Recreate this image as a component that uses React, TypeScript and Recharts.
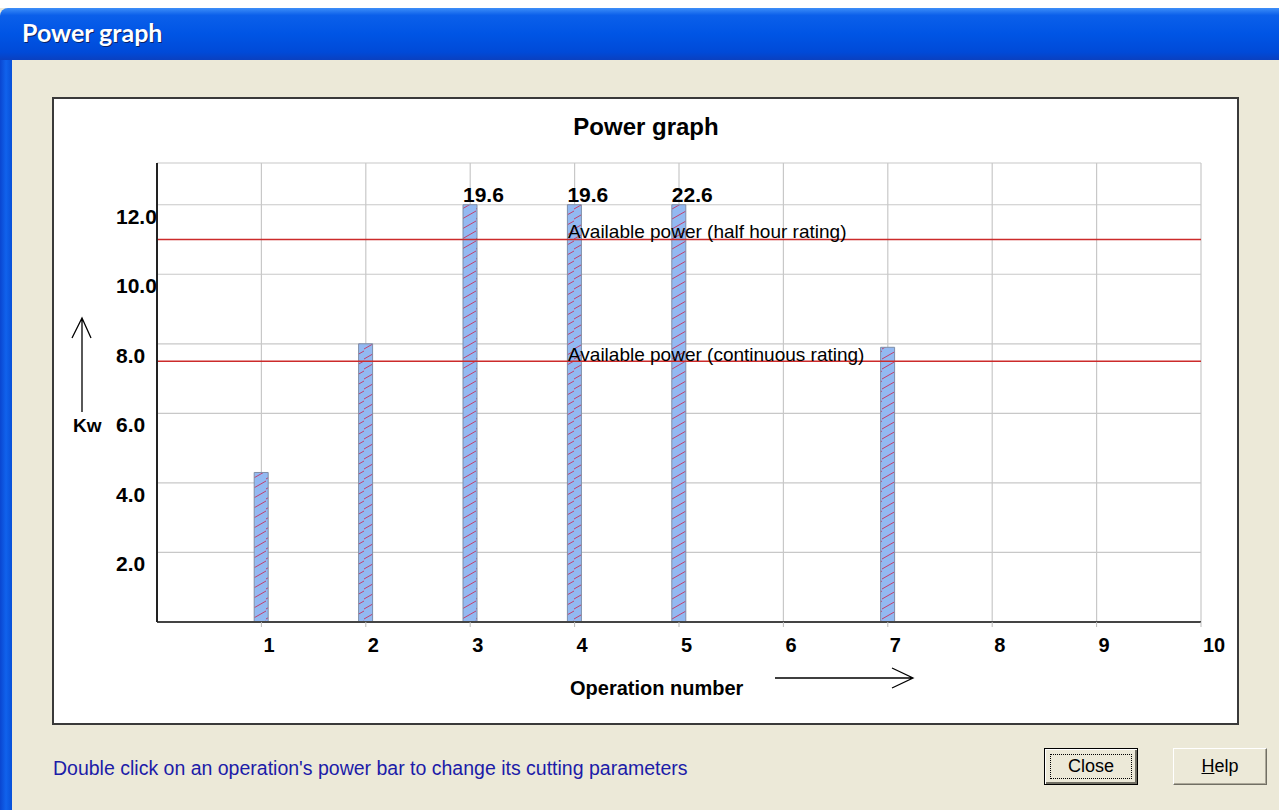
import { Bar, BarChart, CartesianGrid, LabelList, ReferenceLine, XAxis, YAxis } from 'recharts'

// operation number -> power needed (kW); bars above CAP_KW are drawn cut off at CAP_KW
const operations = [1, 2, 3, 4, 5, 7]
const powerKw = [4.3, 8.0, 19.6, 19.6, 22.6, 7.9]

const xTicks = [1, 2, 3, 4, 5, 6, 7, 8, 9, 10]
const yTicks = [2, 4, 6, 8, 10, 12]

const ratingNames = ['Available power (half hour rating)', 'Available power (continuous rating)']
const ratingKw = [11.0, 7.5]

const CAP_KW = 12
const Y_MAX = 13.2

const FONT = "'Liberation Sans', Arial, sans-serif"

const data = operations.map((op, i) => ({
  op,
  kw: powerKw[i],
  shown: Math.min(powerKw[i], CAP_KW),
}))

function YTick({ x, y, payload }: any) {
  return (
    <text x={x - 41} y={y + 19} textAnchor="start" fontFamily={FONT} fontWeight="bold" fontSize={21} fill="#000">
      {Number(payload.value).toFixed(1)}
    </text>
  )
}

function XTick({ x, y, payload }: any) {
  return (
    <text x={x + 2} y={y + 25} textAnchor="start" fontFamily={FONT} fontWeight="bold" fontSize={20} fill="#000">
      {payload.value}
    </text>
  )
}

function OverflowLabel({ x, y, value }: any) {
  if (value <= CAP_KW) return null
  return (
    <text x={x} y={y - 3} textAnchor="start" fontFamily={FONT} fontWeight="bold" fontSize={21} fill="#000">
      {Number(value).toFixed(1)}
    </text>
  )
}

function ratingLabel(text: string, dy: number) {
  return ({ viewBox }: any) => (
    <text x={viewBox.x + 411} y={viewBox.y + dy} fontFamily={FONT} fontSize={19} fill="#000">
      {text}
    </text>
  )
}

function Button({ left, label, focused }: { left: number; label: React.ReactNode; focused?: boolean }) {
  return (
    <div
      style={{
        position: 'absolute',
        left,
        top: 748,
        width: 94,
        height: 37,
        boxSizing: 'border-box',
        background: '#ECE9D8',
        border: '1px solid',
        borderColor: focused ? '#000' : '#fff #716f64 #716f64 #fff',
        boxShadow: focused ? 'inset 1px 1px #fff, inset -2px -2px #716f64' : 'inset -1px -1px #aca899',
        display: 'flex',
        alignItems: 'center',
        justifyContent: 'center',
        fontFamily: FONT,
        fontSize: 18,
        color: '#000',
      }}
    >
      {focused && (
        <div style={{ position: 'absolute', left: 5, top: 5, right: 5, bottom: 5, border: '1px dotted #000' }} />
      )}
      {label}
    </div>
  )
}

export default function App() {
  return (
    <div style={{ position: 'absolute', left: 0, top: 0, width: 1279, height: 810, background: '#ECE9D8', overflow: 'hidden' }}>
      <div style={{ position: 'absolute', left: 0, top: 0, width: 1279, height: 8, background: '#fff' }} />
      <div
        style={{
          position: 'absolute',
          left: 0,
          top: 8,
          width: 1279,
          height: 52,
          borderTopLeftRadius: 8,
          background: 'linear-gradient(180deg, #3d8ef8 0%, #0b5fea 14%, #0055e5 50%, #004ad8 85%, #0a40c0 100%)',
        }}
      >
        <div
          style={{
            position: 'absolute',
            left: 22,
            top: 9,
            fontFamily: "Lato, 'Trebuchet MS', sans-serif",
            fontWeight: 'bold',
            fontSize: 25,
            color: '#fff',
            textShadow: '1px 1px 0 #0a246a',
          }}
        >
          Power graph
        </div>
      </div>
      <div style={{ position: 'absolute', left: 0, top: 60, width: 12, height: 750, background: 'linear-gradient(90deg, #0a46d0, #1062ec 50%, #0850d8)' }} />

      <div
        style={{
          position: 'absolute',
          left: 52,
          top: 97,
          width: 1187,
          height: 628,
          boxSizing: 'border-box',
          background: '#fff',
          border: '2px solid #3a3a3a',
        }}
      />

      <div style={{ position: 'absolute', left: 0, top: 0 }}>
        <BarChart width={1279} height={810} data={data} margin={{ top: 163, right: 78, bottom: 158, left: 97 }}>
          <defs>
            <pattern id="hatch" patternUnits="userSpaceOnUse" width={14} height={10}>
              <rect width={14} height={10} fill="#93b9f2" />
              <path d="M0,9 L14,1" stroke="#c0406e" strokeWidth={1} />
            </pattern>
          </defs>
          <CartesianGrid stroke="#c8c8c8" strokeWidth={1.2} />
          <XAxis
            dataKey="op"
            type="number"
            domain={[0, 10]}
            ticks={xTicks}
            interval={0}
            height={30}
            tick={<XTick />}
            tickSize={5}
            tickMargin={0}
            tickLine={{ stroke: '#bbbbbb' }}
            axisLine={{ stroke: '#444', strokeWidth: 2 }}
          />
          <YAxis
            domain={[0, Y_MAX]}
            ticks={yTicks}
            interval={0}
            width={60}
            tick={<YTick />}
            tickSize={0}
            tickMargin={0}
            tickLine={false}
            axisLine={{ stroke: '#222', strokeWidth: 2 }}
          />
          {ratingKw.map((kw, i) => (
            <ReferenceLine
              key={ratingNames[i]}
              y={kw}
              stroke="#cc2b2b"
              strokeWidth={1.5}
              label={ratingLabel(ratingNames[i], i === 0 ? -2 : 0)}
            />
          ))}
          <Bar dataKey="shown" barSize={14} fill="url(#hatch)" stroke="#7f8ea8" strokeWidth={1} isAnimationActive={false}>
            <LabelList dataKey="kw" content={<OverflowLabel />} />
          </Bar>
        </BarChart>
      </div>

      <svg width={1279} height={810} style={{ position: 'absolute', left: 0, top: 0, pointerEvents: 'none' }}>
        <text x={646} y={135} textAnchor="middle" fontFamily={FONT} fontWeight="bold" fontSize={24} fill="#000">
          Power graph
        </text>
        <text x={73} y={432} fontFamily={FONT} fontWeight="bold" fontSize={19} fill="#000">
          Kw
        </text>
        <path d="M82,412 L82,318 M72,338 L82,318 L91,338" stroke="#000" strokeWidth={1.3} fill="none" />
        <text x={570} y={695} fontFamily={FONT} fontWeight="bold" fontSize={20} fill="#000">
          Operation number
        </text>
        <path d="M775,678 L913,678 M892,668 L913,678 L892,688" stroke="#000" strokeWidth={1.3} fill="none" />
      </svg>

      <div style={{ position: 'absolute', left: 53, top: 757, fontFamily: FONT, fontSize: 19.5, color: '#1c1ca8' }}>
        Double click on an operation's power bar to change its cutting parameters
      </div>
      <Button left={1044} label="Close" focused />
      <Button left={1173} label={<span><u>H</u>elp</span>} />
    </div>
  )
}
